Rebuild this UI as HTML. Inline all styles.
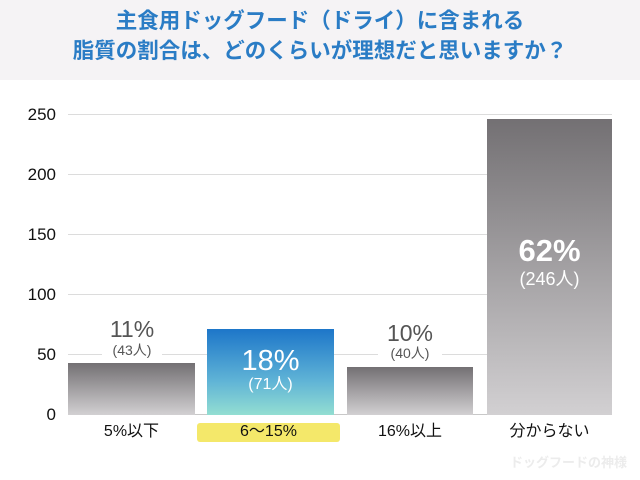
<!DOCTYPE html>
<html><head><meta charset="utf-8"><style>
body{margin:0;width:640px;height:480px;background:#fff;position:relative;overflow:hidden;font-family:"Liberation Sans","Noto Sans CJK JP",sans-serif}
.hdr{position:absolute;left:0;top:0;width:640px;height:80px;background:#f5f3f5}
.t{position:absolute;left:0;width:640px;text-align:center;color:#2a7cc5;font-weight:bold;font-size:21.5px;line-height:24px}
.g{position:absolute;left:68px;width:544px;height:1px;background:#dcdcdc}
.yl{position:absolute;left:0;width:56px;text-align:right;font-size:17px;color:#111;line-height:18px}
.b{position:absolute;bottom:65px}
.gr{background:linear-gradient(#737073,#d2d0d2)}
.v{position:absolute;text-align:center;line-height:1}
.xl{position:absolute;top:422px;font-size:16px;text-align:center;color:#111;line-height:20px}
</style></head><body>
<div class="hdr"></div>
<div class="t" style="top:9px">主食用ドッグフード（ドライ）に含まれる</div>
<div class="t" style="top:39px">脂質の割合は、どのくらいが理想だと思いますか？</div>
<div class="g" style="top:114px"></div>
<div class="g" style="top:174px"></div>
<div class="g" style="top:234px"></div>
<div class="g" style="top:294px"></div>
<div class="g" style="top:354px"></div>
<div class="g" style="top:414px;background:#c8c8c8"></div>
<div class="yl" style="top:106px">250</div>
<div class="yl" style="top:166px">200</div>
<div class="yl" style="top:226px">150</div>
<div class="yl" style="top:286px">100</div>
<div class="yl" style="top:346px">50</div>
<div class="yl" style="top:406px">0</div>
<div class="b gr" style="left:68px;width:127px;height:52px"></div>
<div class="b" style="left:207px;width:127px;height:86px;background:linear-gradient(#1d76c9,#5fb3d6 60%,#93ded2)"></div>
<div class="b gr" style="left:347px;width:126px;height:48px"></div>
<div class="b gr" style="left:487px;width:125px;height:296px"></div>
<div class="v" style="left:102px;width:60px;top:318px;font-size:23px;color:#555;background:#fff">11%</div>
<div class="v" style="left:102px;width:60px;top:343px;font-size:14px;color:#555;background:#fff;padding-bottom:3px">(43人)</div>
<div class="v" style="left:207px;width:127px;top:347px;font-size:29px;color:#fff">18%</div>
<div class="v" style="left:207px;width:127px;top:377px;font-size:16px;color:#fff">(71人)</div>
<div class="v" style="left:378px;width:64px;top:322px;font-size:23px;color:#555;background:#fff">10%</div>
<div class="v" style="left:378px;width:64px;top:346px;font-size:14px;color:#555;background:#fff;padding-bottom:3px">(40人)</div>
<div class="v" style="left:487px;width:125px;top:235px;font-size:31px;color:#fff;font-weight:bold">62%</div>
<div class="v" style="left:487px;width:125px;top:270px;font-size:18px;color:#fff">(246人)</div>
<div style="position:absolute;left:197px;top:423px;width:143px;height:19px;background:#f4e86a;border-radius:3px"></div>
<div class="xl" style="left:68px;width:127px">5%以下</div>
<div class="xl" style="left:197px;width:143px">6〜15%</div>
<div class="xl" style="left:347px;width:126px">16%以上</div>
<div class="xl" style="left:487px;width:125px">分からない</div>
<div style="position:absolute;left:510px;top:452px;width:120px;font-size:13px;color:#ececec;font-weight:bold">ドッグフードの神様</div>
</body></html>
